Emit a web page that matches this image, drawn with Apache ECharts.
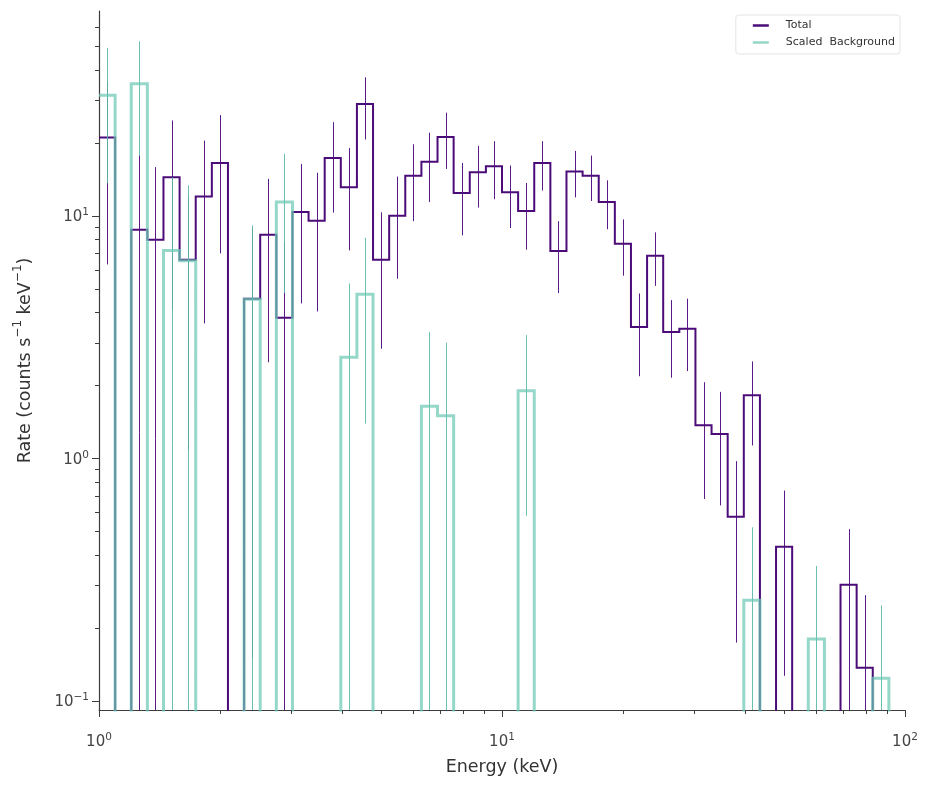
<!DOCTYPE html>
<html>
<head>
<meta charset="utf-8">
<title>Spectrum</title>
<script src="https://cdn.jsdelivr.net/npm/echarts@6.0.0/dist/echarts.min.js"></script>
<style>
  html, body { margin: 0; padding: 0; background: #fff; }
  #chart { width: 930px; height: 786px; }
</style>
</head>
<body>
<div id="chart"></div>
<script>
// bin edges, keV (50 log bins between 1 and 100)
const energyEdges = [
  1.0000, 1.0965, 1.2023, 1.3183, 1.4454, 1.5849, 1.7378, 1.9055, 2.0893, 2.2909,
  2.5119, 2.7542, 3.0200, 3.3113, 3.6308, 3.9811, 4.3652, 4.7863, 5.2481, 5.7544,
  6.3096, 6.9183, 7.5858, 8.3176, 9.1201, 10.000, 10.965, 12.023, 13.183, 14.454,
  15.849, 17.378, 19.055, 20.893, 22.909, 25.119, 27.542, 30.200, 33.113, 36.308,
  39.811, 43.652, 47.863, 52.481, 57.544, 63.096, 69.183, 75.858, 83.176, 91.201,
  100.00
]
// Total rate per bin (0 = empty bin)
const totalRate = [
  21.0, 0, 8.75, 7.96, 14.4, 6.58, 12.0, 16.5, 0, 4.55,
  8.34, 3.80, 10.35, 9.53, 17.3, 13.1, 28.9, 6.58, 10.0, 14.6,
  16.7, 21.1, 12.4, 15.1, 16.0, 12.5, 10.45, 16.5, 7.15, 15.2,
  14.6, 11.4, 7.66, 3.48, 6.84, 3.32, 3.42, 1.37, 1.26, 0.574,
  1.82, 0, 0.432, 0, 0, 0, 0.301, 0.137, 0, 0
]
const totalErr = [
  14.7, 0, 9.0, 7.9, 10.3, 5.5, 8.4, 9.5, 0, 4.4,
  5.85, 4.0, 6.0, 5.5, 7.0, 5.9, 8.3, 3.75, 4.5, 5.1,
  5.3, 5.5, 4.1, 4.3, 4.3, 3.6, 3.2, 3.8, 2.35, 3.3,
  3.1, 2.6, 2.0, 1.3, 1.7, 1.17, 1.13, 0.69, 0.62, 0.40,
  0.69, 0, 0.305, 0, 0, 0, 0.21, 0.136, 0, 0
]
// scaled background rate per bin
const bkgRate = [
  31.4, 0, 35.0, 0, 7.19, 6.53, 0, 0, 0, 4.53,
  0, 11.4, 0, 0, 0, 2.61, 4.75, 0, 0, 0,
  1.64, 1.50, 0, 0, 0, 0, 1.90, 0, 0, 0,
  0, 0, 0, 0, 0, 0, 0, 0, 0, 0,
  0.26, 0, 0, 0, 0.18, 0, 0, 0, 0.124, 0
]
const bkgErr = [
  17.8, 0, 17.3, 0, 7.2, 6.8, 0, 0, 0, 4.6,
  0, 6.6, 0, 0, 0, 2.65, 3.36, 0, 0, 0,
  1.67, 1.5, 0, 0, 0, 0, 1.32, 0, 0, 0,
  0, 0, 0, 0, 0, 0, 0, 0, 0, 0,
  0.26, 0, 0, 0, 0.18, 0, 0, 0, 0.124, 0
]

// axis ticks
const xMajorTicks = [1, 10, 100]
const xMinorTicks = [2, 3, 4, 5, 6, 7, 8, 9, 20, 30, 40, 50, 60, 70, 80, 90]
const yMajorTicks = [0.1, 1, 10]
const yMinorTicks = [0.2, 0.3, 0.4, 0.5, 0.6, 0.7, 0.8, 0.9, 2, 3, 4, 5, 6, 7, 8, 9, 20, 30, 40, 50, 60]

const X_MIN = 1
const X_MAX = 100
const Y_MIN = 0.0918
const Y_MAX = 69.8
const FLOOR = 1e-4 // empty bins fall below the axis and get clipped

const PURPLE = '#4b0b78'
const PURPLE_ERR = '#5a1a8a'
const TEAL = 'rgba(108,200,180,0.72)'
const TEAL_ERR = 'rgba(88,186,166,0.9)'
const AXIS_COLOR = '#3d3d3d'
const FONT = 'DejaVu Sans'

// histogram outline: two points per bin
function stepPoints(rates) {
  let pts = []
  for (let i = 0; i < rates.length; i++) {
    let v = rates[i] > 0 ? rates[i] : FLOOR
    pts.push([energyEdges[i], v], [energyEdges[i + 1], v])
  }
  return pts
}

// error bars at bin centre: [x, low, high]
function errPoints(rates, errs) {
  let pts = []
  for (let i = 0; i < rates.length; i++) {
    if (rates[i] <= 0) continue
    let xc = Math.sqrt(energyEdges[i] * energyEdges[i + 1])
    pts.push([xc, rates[i] - errs[i], rates[i] + errs[i]])
  }
  return pts
}

function errRender(color) {
  return function (params, api) {
    let lo = Math.max(api.value(1), Y_MIN)
    let hi = Math.min(api.value(2), Y_MAX)
    let p1 = api.coord([api.value(0), lo])
    let p2 = api.coord([api.value(0), hi])
    let x = Math.round(p1[0]) + 0.5
    return {
      type: 'line',
      shape: { x1: x, y1: p1[1], x2: x, y2: p2[1] },
      style: { stroke: color, lineWidth: 1 }
    }
  }
}

// axis ticks drawn from the tick arrays (outward)
function tickRender(dim, len) {
  return function (params, api) {
    let p = api.coord([api.value(0), api.value(1)])
    let shape
    if (dim === 'x') {
      let x = Math.round(p[0]) + 0.5
      shape = { x1: x, y1: p[1], x2: x, y2: p[1] + len }
    } else {
      let y = Math.round(p[1]) + 0.5
      shape = { x1: p[0], y1: y, x2: p[0] - len, y2: y }
    }
    return { type: 'line', shape: shape, style: { stroke: AXIS_COLOR, lineWidth: 1 } }
  }
}

function tickSeries(name, data, dim, len) {
  return {
    name: name,
    type: 'custom',
    silent: true,
    clip: false,
    z: 5,
    renderItem: tickRender(dim, len),
    data: data
  }
}

// 10^n labels; nothing for the axis end values
function powerLabel(v) {
  let lg = Math.log10(v)
  let e = Math.round(lg)
  if (Math.abs(lg - e) > 1e-6) return ''
  let s = e < 0 ? '\u2212' + (-e) : String(e)
  return '{b|10}{sup|' + s + '}'
}

const labelRich = {
  b: { fontSize: 15, color: '#444', fontFamily: FONT, padding: [3, 0, 0, 0] },
  sup: { fontSize: 10.5, color: '#444', fontFamily: FONT, verticalAlign: 'top' }
}

const chart = echarts.init(document.getElementById('chart'))
const option = {
  animation: false,
  textStyle: { fontFamily: FONT },
  grid: { left: 99, right: 25, top: 11, bottom: 76 },
  legend: {
    orient: 'vertical',
    right: 30,
    top: 15,
    align: 'left',
    data: ['Total', 'Scaled  Background'],
    icon: 'rect',
    itemWidth: 16,
    itemHeight: 2.5,
    itemGap: 6,
    padding: [5, 5, 6, 17],
    borderColor: '#e4e4e4',
    borderWidth: 1,
    borderRadius: 3,
    backgroundColor: '#fff',
    textStyle: { fontSize: 11, color: '#333', fontFamily: FONT, padding: [0, 0, 0, 12] }
  },
  xAxis: {
    type: 'log',
    logBase: 10,
    min: X_MIN,
    max: X_MAX,
    name: 'Energy (keV)',
    nameLocation: 'middle',
    nameGap: 48,
    nameTextStyle: { fontSize: 17.5, color: '#333', fontFamily: FONT },
    axisLine: { show: true, lineStyle: { color: AXIS_COLOR, width: 1.2 } },
    axisTick: { show: false },
    splitLine: { show: false },
    axisLabel: { margin: 22, formatter: powerLabel, rich: labelRich }
  },
  yAxis: {
    type: 'log',
    logBase: 10,
    min: Y_MIN,
    max: Y_MAX,
    name: '{b|Rate (counts s}{sup|\u22121}{b| keV}{sup|\u22121}{b|)}',
    nameLocation: 'middle',
    nameGap: 65,
    nameRotate: 90,
    nameTextStyle: {
      rich: {
        b: { fontSize: 17.5, color: '#333', fontFamily: FONT, padding: [4, 0, 0, 0] },
        sup: { fontSize: 12, color: '#333', fontFamily: FONT, verticalAlign: 'top' }
      }
    },
    axisLine: { show: true, lineStyle: { color: AXIS_COLOR, width: 1.2 } },
    axisTick: { show: false },
    splitLine: { show: false },
    axisLabel: { margin: 10, formatter: powerLabel, rich: labelRich }
  },
  series: [
    {
      name: 'Total',
      type: 'line',
      data: stepPoints(totalRate),
      showSymbol: false,
      symbol: 'none',
      clip: true,
      color: PURPLE,
      lineStyle: { color: PURPLE, width: 2, join: 'miter', cap: 'butt' },
      z: 2
    },
    {
      name: 'Total err',
      type: 'custom',
      silent: true,
      clip: true,
      renderItem: errRender(PURPLE_ERR),
      encode: { x: 0, y: [1, 2] },
      data: errPoints(totalRate, totalErr),
      z: 2
    },
    {
      name: 'Scaled  Background',
      type: 'line',
      data: stepPoints(bkgRate),
      showSymbol: false,
      symbol: 'none',
      clip: true,
      color: TEAL,
      lineStyle: { color: TEAL, width: 3, join: 'miter', cap: 'butt' },
      z: 3
    },
    {
      name: 'Background err',
      type: 'custom',
      silent: true,
      clip: true,
      renderItem: errRender(TEAL_ERR),
      encode: { x: 0, y: [1, 2] },
      data: errPoints(bkgRate, bkgErr),
      z: 3
    },
    tickSeries('x major', xMajorTicks.map(v => [v, Y_MIN]), 'x', 7),
    tickSeries('x minor', xMinorTicks.map(v => [v, Y_MIN]), 'x', 4),
    tickSeries('y major', yMajorTicks.map(v => [X_MIN, v]), 'y', 7),
    tickSeries('y minor', yMinorTicks.map(v => [X_MIN, v]), 'y', 4)
  ]
}
chart.setOption(option)
</script>
</body>
</html>
